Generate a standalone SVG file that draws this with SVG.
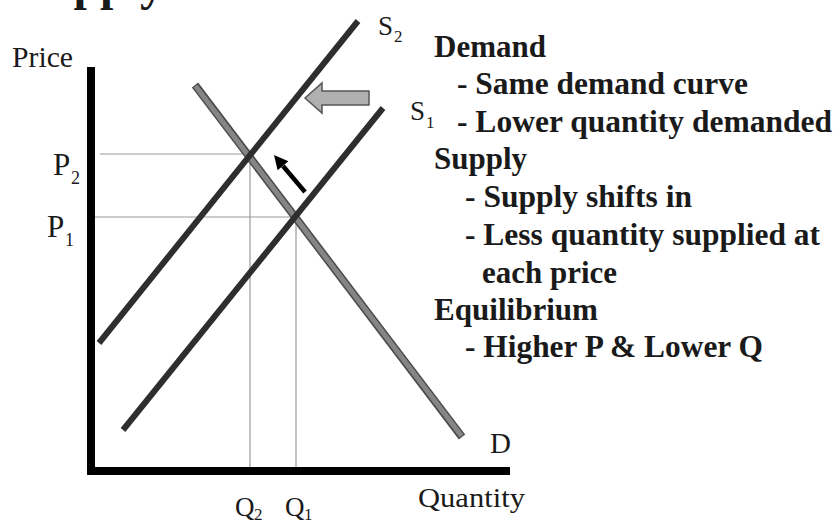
<svg xmlns="http://www.w3.org/2000/svg" width="835" height="523" viewBox="0 0 835 523">
<style>
.lbl{font-family:"Liberation Serif","Times New Roman",serif;fill:#1a1a1a}
.b{font-family:"Liberation Serif","Times New Roman",serif;font-weight:bold;font-size:31px;fill:#1a1a1a}
.guide{stroke:#9a9a9a;stroke-width:1.2;fill:none}
.sup{stroke:#2e2e2e;stroke-width:6;stroke-linecap:butt;fill:none}
</style>
<rect width="835" height="523" fill="#ffffff"/>
<g id="title">
<text class="b" x="20" y="0" style="font-size:48px">Supply Shift</text>
</g>
<g id="guides">
<line class="guide" x1="100" y1="154" x2="250" y2="154"/>
<line class="guide" x1="95" y1="217" x2="296" y2="217"/>
<line class="guide" x1="250" y1="154" x2="250" y2="468"/>
<line class="guide" x1="296" y1="217" x2="296" y2="468"/>
</g>
<g id="axes">
<rect x="87" y="67" width="8" height="408" fill="#000"/>
<rect x="87" y="467" width="423" height="8" fill="#000"/>
</g>
<g id="curves">
<g id="demand">
<line x1="195" y1="85" x2="462" y2="437" stroke="#4a4a4a" stroke-width="8"/>
<line x1="195.5" y1="86" x2="461.5" y2="436" stroke="#858585" stroke-width="5"/>
</g>
<line id="supply2" class="sup" x1="99" y1="343" x2="358" y2="21"/>
<line id="supply1" class="sup" x1="123" y1="430" x2="383" y2="108"/>
</g>
<g id="arrows">
<polygon id="shift-arrow" points="305,98 322,83 322,91 369,91 369,105 322,105 322,113" fill="#b0b0b0" stroke="#555" stroke-width="1.5"/>
<g id="move-arrow">
<line x1="305" y1="192" x2="283" y2="166" stroke="#000" stroke-width="4.5"/>
<polygon points="274,155 288.4,161.2 277.6,170.2" fill="#000"/>
</g>
</g>
<g id="labels">
<text class="lbl" x="12" y="67" font-size="29" textLength="61" lengthAdjust="spacingAndGlyphs">Price</text>
<text class="lbl" x="378" y="35" font-size="27">S</text>
<text class="lbl" x="394" y="42" font-size="17">2</text>
<text class="lbl" x="410" y="120" font-size="27">S</text>
<text class="lbl" x="426" y="128" font-size="17">1</text>
<text class="lbl" x="53" y="175" font-size="31">P</text>
<text class="lbl" x="71" y="184" font-size="18">2</text>
<text class="lbl" x="47" y="237" font-size="31">P</text>
<text class="lbl" x="65" y="246" font-size="18">1</text>
<text class="lbl" x="490" y="453" font-size="29">D</text>
<text class="lbl" x="418" y="507" font-size="28" textLength="107" lengthAdjust="spacingAndGlyphs">Quantity</text>
<text class="lbl" x="235" y="516" font-size="27">Q</text>
<text class="lbl" x="254" y="520" font-size="17">2</text>
<text class="lbl" x="285" y="516" font-size="27">Q</text>
<text class="lbl" x="304" y="520" font-size="17">1</text>
</g>
<g id="notes">
<text class="b" x="434" y="57" textLength="112" lengthAdjust="spacingAndGlyphs">Demand</text>
<text class="b" x="457" y="94" textLength="291" lengthAdjust="spacingAndGlyphs">- Same demand curve</text>
<text class="b" x="457" y="132" textLength="375" lengthAdjust="spacingAndGlyphs">- Lower quantity demanded</text>
<text class="b" x="434" y="169" textLength="93" lengthAdjust="spacingAndGlyphs">Supply</text>
<text class="b" x="465" y="207" textLength="227" lengthAdjust="spacingAndGlyphs">- Supply shifts in</text>
<text class="b" x="465" y="245" textLength="355" lengthAdjust="spacingAndGlyphs">- Less quantity supplied at</text>
<text class="b" x="482" y="283" textLength="135" lengthAdjust="spacingAndGlyphs">each price</text>
<text class="b" x="434" y="320" textLength="164" lengthAdjust="spacingAndGlyphs">Equilibrium</text>
<text class="b" x="465" y="357" textLength="298" lengthAdjust="spacingAndGlyphs">- Higher P &amp; Lower Q</text>
</g>
</svg>
